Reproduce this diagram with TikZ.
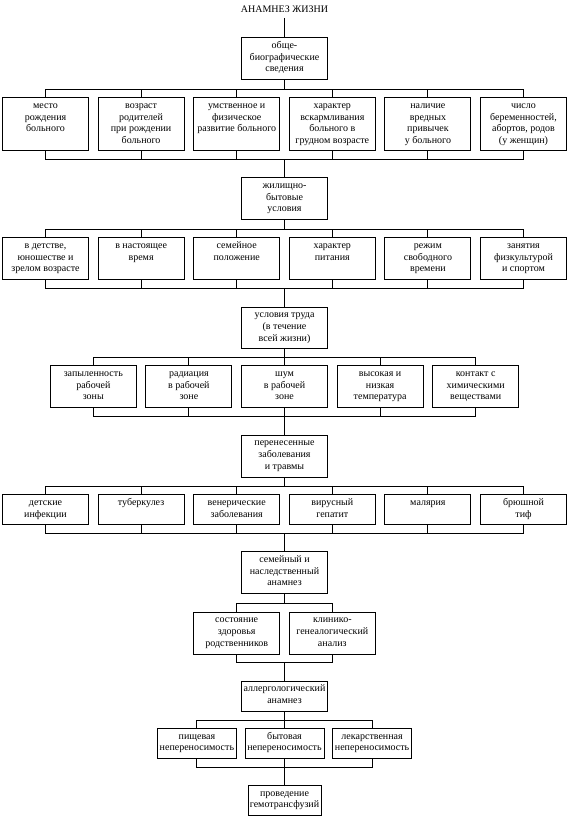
\documentclass[tikz,border=0pt]{standalone}
\usepackage{fontspec}
\setmainfont{Liberation Serif}
\usepackage{tikz}

% box of fixed size, text set from its top
\newcommand{\cellbox}[3]{\parbox[t][\dimexpr#2pt-5.4pt\relax][t]{#1pt}{\centering\strut#3}}

\begin{document}
\begin{tikzpicture}[x=1pt,y=-1pt,
      cell/.style={draw,line width=0.9pt,anchor=north,inner xsep=0pt,
                   inner ysep=2.7pt,font=\fontsize{10}{11.6}\selectfont},
      link/.style={line width=0.9pt},
      title/.style={font=\fontsize{10}{11.6}\selectfont,inner ysep=5pt},
  ]
  \useasboundingbox (0,0) rectangle (568,817);

  \node[title] (top) at (284.5,9.3) {АНАМНЕЗ ЖИЗНИ};

  %--- general biography ---
  \node[cell] (m1) at (284.5,37.3) {\cellbox{86}{42}{обще-\\биографические\\сведения}};
  \node[cell] (r1a) at (45.5,97.3)  {\cellbox{86}{53}{место\\рождения\\больного}};
  \node[cell] (r1b) at (141.1,97.3) {\cellbox{86}{53}{возраст\\родителей\\при рождении\\больного}};
  \node[cell] (r1c) at (236.7,97.3) {\cellbox{86}{53}{умственное и\\физическое\\развитие больного}};
  \node[cell] (r1d) at (332.3,97.3) {\cellbox{86}{53}{характер\\вскармливания\\больного в\\грудном возрасте}};
  \node[cell] (r1e) at (427.9,97.3) {\cellbox{86}{53}{наличие\\вредных\\привычек\\у больного}};
  \node[cell] (r1f) at (523.5,97.3) {\cellbox{86}{53}{число\\беременностей,\\абортов, родов\\(у женщин)}};

  %--- living conditions ---
  \node[cell] (m2) at (284.5,177.3) {\cellbox{86}{42}{жилищно-\\бытовые\\условия}};
  \node[cell] (r2a) at (45.5,237.3)  {\cellbox{86}{42}{в детстве,\\юношестве и\\зрелом возрасте}};
  \node[cell] (r2b) at (141.1,237.3) {\cellbox{86}{42}{в настоящее\\время}};
  \node[cell] (r2c) at (236.7,237.3) {\cellbox{86}{42}{семейное\\положение}};
  \node[cell] (r2d) at (332.3,237.3) {\cellbox{86}{42}{характер\\питания}};
  \node[cell] (r2e) at (427.9,237.3) {\cellbox{86}{42}{режим\\свободного\\времени}};
  \node[cell] (r2f) at (523.5,237.3) {\cellbox{86}{42}{занятия\\физкультурой\\и спортом}};

  %--- work ---
  \node[cell] (m3) at (284.5,306.7) {\cellbox{86}{41}{условия труда\\(в течение\\всей жизни)}};
  \node[cell] (r3a) at (93.3,365.3)  {\cellbox{86}{42}{запыленность\\рабочей\\зоны}};
  \node[cell] (r3b) at (188.9,365.3) {\cellbox{86}{42}{радиация\\в рабочей\\зоне}};
  \node[cell] (r3c) at (284.5,365.3) {\cellbox{86}{42}{шум\\в рабочей\\зоне}};
  \node[cell] (r3d) at (380.1,365.3) {\cellbox{86}{42}{высокая и\\низкая\\температура}};
  \node[cell] (r3e) at (475.7,365.3) {\cellbox{86}{42}{контакт с\\химическими\\веществами}};

  %--- past diseases ---
  \node[cell] (m4) at (284.5,434.7) {\cellbox{86}{42}{перенесенные\\заболевания\\и травмы}};
  \node[cell] (r4a) at (45.5,494.3)  {\cellbox{86}{30}{детские\\инфекции}};
  \node[cell] (r4b) at (141.1,494.3) {\cellbox{86}{30}{туберкулез}};
  \node[cell] (r4c) at (236.7,494.3) {\cellbox{86}{30}{венерические\\заболевания}};
  \node[cell] (r4d) at (332.3,494.3) {\cellbox{86}{30}{вирусный\\гепатит}};
  \node[cell] (r4e) at (427.9,494.3) {\cellbox{86}{30}{малярия}};
  \node[cell] (r4f) at (523.5,494.3) {\cellbox{86}{30}{брюшной\\тиф}};

  %--- family ---
  \node[cell] (m5) at (284.5,551.3) {\cellbox{86}{42}{семейный и\\наследственный\\анамнез}};
  \node[cell] (r5a) at (236.7,611.7) {\cellbox{86}{42}{состояние\\здоровья\\родственников}};
  \node[cell] (r5b) at (332.3,611.7) {\cellbox{86}{42}{клинико-\\генеалогический\\анализ}};

  %--- allergy ---
  \node[cell] (m6) at (284.5,680.7) {\cellbox{86}{30}{аллергологический\\анамнез}};
  \node[cell] (r6a) at (196.9,728) {\cellbox{79}{30}{пищевая\\непереносимость}};
  \node[cell] (r6b) at (284.5,728) {\cellbox{79}{30}{бытовая\\непереносимость}};
  \node[cell] (r6c) at (372.1,728) {\cellbox{79}{30}{лекарственная\\непереносимость}};

  \node[cell] (m7) at (284.5,785) {\cellbox{73}{30}{проведение\\гемотрансфузий}};

  %--- buses ---
  \draw[link] (top) -- (m1);
  \foreach \m/\n/\kids in {m1/m2/{r1a,r1b,r1c,r1d,r1e,r1f},
                          m2/m3/{r2a,r2b,r2c,r2d,r2e,r2f},
                          m3/m4/{r3a,r3b,r3c,r3d,r3e},
                          m4/m5/{r4a,r4b,r4c,r4d,r4e,r4f},
                          m5/m6/{r5a,r5b},
                          m6/m7/{r6a,r6b,r6c}} {
    \coordinate (j) at ([yshift=-9pt]\m.south);
    \coordinate (k) at ([yshift=18pt]\n.north);
    \draw[link] (\m.south) -- (j) (k) -- (\n.north);
    \foreach \c in \kids
      \draw[link] (j) -| (\c.north) (\c.south) |- (k);
  }
\end{tikzpicture}
\end{document}
